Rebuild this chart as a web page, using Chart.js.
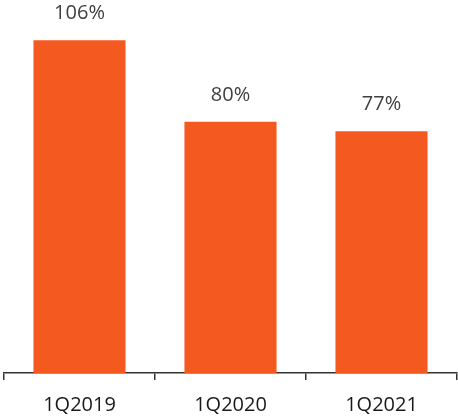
<!DOCTYPE html>
<html>
<head>
<meta charset="utf-8">
<script src="https://cdn.jsdelivr.net/npm/chart.js@4"></script>
<style>
  html, body { margin: 0; padding: 0; background: #ffffff; }
  #wrap { width: 458px; height: 416px; }
</style>
</head>
<body>
<div id="wrap"><canvas id="c" width="458" height="416"></canvas></div>
<script>
const categories = ['1Q2019', '1Q2020', '1Q2021'];
const ratios = [106, 80, 77];

// Percentage labels printed above each bar
const valueLabels = {
  id: 'valueLabels',
  afterDatasetsDraw(chart) {
    const ctx = chart.ctx;
    const meta = chart.getDatasetMeta(0);
    ctx.save();
    ctx.font = '20px "Open Sans", sans-serif';
    ctx.fillStyle = '#404040';
    ctx.textAlign = 'center';
    ctx.textBaseline = 'middle';
    meta.data.forEach((bar, i) => {
      ctx.fillText(ratios[i] + '%', bar.x, bar.y - 27);
    });
    ctx.restore();
  }
};

new Chart(document.getElementById('c'), {
  type: 'bar',
  data: {
    labels: categories,
    datasets: [{
      data: ratios,
      backgroundColor: '#F45A1F',
      borderWidth: 0,
      categoryPercentage: 1,
      barPercentage: 0.61
    }]
  },
  options: {
    responsive: false,
    animation: false,
    layout: { padding: { left: 4, right: 1, top: 0, bottom: 0 } },
    plugins: { legend: { display: false }, tooltip: { enabled: false } },
    scales: {
      x: {
        offset: true,
        afterFit(scale) { scale.height = 43; },
        border: { display: true, color: '#333333', width: 1.5 },
        grid: {
          offset: true,
          drawOnChartArea: false,
          drawTicks: true,
          tickLength: 7,
          color: '#333333',
          lineWidth: 1.5
        },
        ticks: {
          color: '#1a1a1a',
          padding: 13,
          font: { family: '"Open Sans", sans-serif', size: 20 }
        }
      },
      y: {
        display: false,
        min: 0,
        max: 118.8
      }
    }
  },
  plugins: [valueLabels]
});
</script>
</body>
</html>
